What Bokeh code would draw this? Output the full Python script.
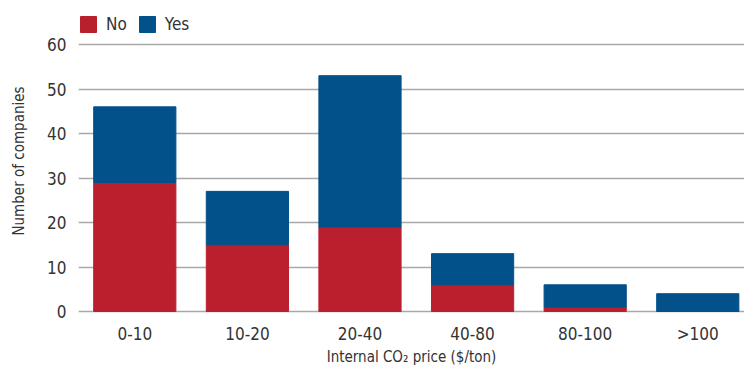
from bokeh.plotting import figure
from bokeh.models import Range1d, ColumnDataSource, Legend, LegendItem, FixedTicker
from bokeh.embed import file_html
from bokeh.resources import INLINE

# Companies by internal carbon price band, split by answer
categories = ["0-10", "10-20", "20-40", "40-80", "80-100", ">100"]
no_counts = [29, 15, 19, 6, 1, 0]
yes_counts = [17, 12, 34, 7, 5, 4]
y_ticks = [0, 10, 20, 30, 40, 50, 60]

RED = "#ba1f2e"
BLUE = "#03518a"
FONT = "DejaVu Sans Condensed"
TEXT = "#333333"

x = list(range(len(categories)))
totals = [n + y for n, y in zip(no_counts, yes_counts)]
src = ColumnDataSource(dict(x=x, no=no_counts, yes_top=totals))

# the top of the y range leaves room for the legend row above the 60 line
p = figure(width=744, height=374, output_backend="svg", toolbar_location=None,
           x_range=Range1d(-0.5, 5.415), y_range=Range1d(-0.45, 68.1),
           min_border_left=78, min_border_right=0, min_border_top=8,
           min_border_bottom=61)
p.outline_line_color = None

r_no = p.vbar(x="x", bottom=0, top="no", width=0.73, color=RED, source=src)
r_yes = p.vbar(x="x", bottom="no", top="yes_top", width=0.73, color=BLUE, source=src)

# axes
p.xaxis.ticker = FixedTicker(ticks=x)
p.xaxis.major_label_overrides = {i: c for i, c in enumerate(categories)}
p.yaxis.ticker = FixedTicker(ticks=y_ticks)
for ax in (p.xaxis[0], p.yaxis[0]):
    ax.axis_line_color = None
    ax.major_tick_line_color = None
    ax.minor_tick_line_color = None
    ax.major_tick_out = 0
    ax.major_tick_in = 0
    ax.major_label_text_font = FONT
    ax.major_label_text_font_size = "17px"
    ax.major_label_text_color = TEXT
    ax.axis_label_text_font = FONT
    ax.axis_label_text_font_size = "15px"
    ax.axis_label_text_font_style = "normal"
    ax.axis_label_text_color = TEXT
p.xaxis.major_label_standoff = 10
p.yaxis.major_label_standoff = 12
p.xaxis.axis_label = "Internal CO\u2082 price ($/ton)"
p.yaxis.axis_label = "Number of companies"
p.xaxis.axis_label_standoff = 1
p.yaxis.axis_label_standoff = 16

p.xgrid.grid_line_color = None
p.ygrid.grid_line_color = "#a8a8a8"
p.ygrid.grid_line_width = 1.5

legend = Legend(items=[LegendItem(label="No", renderers=[r_no]),
                       LegendItem(label="Yes", renderers=[r_yes])],
                orientation="horizontal", location=(0, 279),
                glyph_width=20, glyph_height=20, label_height=20,
                label_standoff=8, spacing=10, padding=0, margin=0,
                border_line_color=None, background_fill_alpha=0,
                label_text_font=FONT, label_text_font_size="17px",
                label_text_color=TEXT)
p.add_layout(legend)

open("out.html", "w").write(file_html(p, INLINE))
